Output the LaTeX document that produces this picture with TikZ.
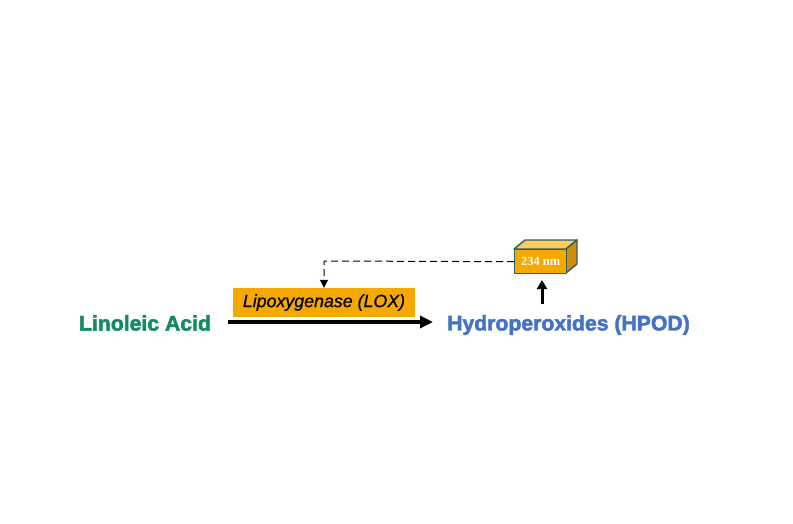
\documentclass[tikz,border=0pt]{standalone}
\usepackage{fontspec}
\setmainfont{Liberation Sans}
\newfontfamily\heavysans[FakeBold=2.2]{Liberation Sans Bold}
\newfontfamily\semiitalic[FakeBold=0.6]{Liberation Sans Italic}
\newfontfamily\serifbold{Liberation Serif Bold}
\usetikzlibrary{arrows.meta}
\definecolor{lagreen}{HTML}{148C5F}
\definecolor{hpblue}{HTML}{4472C4}
\definecolor{loxorange}{HTML}{F5A800}
\definecolor{cubetop}{HTML}{FFCC5A}
\definecolor{cubeside}{HTML}{D08E00}
\definecolor{cubeedge}{HTML}{2E5F6E}
\tikzset{
  label text/.style={inner sep=0pt, font=\heavysans\fontsize{21.2}{24}\selectfont},
  cubeline/.style={draw=cubeedge, line width=1.4pt, line join=round}
}
\begin{document}
\begin{tikzpicture}[x=1pt,y=-1pt]
\useasboundingbox[fill=white] (0,0) rectangle (793,523);
% texts
\node[label text, text=lagreen] (la) at (145,323) {Linoleic Acid};
\node[label text, text=hpblue] (hp) at (568.5,325) {Hydroperoxides (HPOD)};
% enzyme box
\node[fill=loxorange, minimum width=182pt, minimum height=29pt, inner sep=0pt,
      font=\semiitalic\fontsize{17.8}{20}\selectfont] (lox) at (324,302.5) {Lipoxygenase (LOX)};
% main arrow
\coordinate (a0) at (228,322);
\coordinate (a1) at (433,322);
\draw[line width=4pt, -{Triangle[length=13pt,width=12pt]}] (a0) -- (a1);
% cube
\fill[cubetop, cubeline] (514,249) -- (525,240) -- (577,240) -- (566,249) -- cycle;
\fill[cubeside, cubeline] (566,249) -- (577,240) -- (577,264) -- (566,273) -- cycle;
\node[fill=loxorange, cubeline, minimum width=52pt, minimum height=24pt, inner sep=0pt,
      anchor=north west, text=white, font=\serifbold\fontsize{12.5}{14}\selectfont]
      (cube) at (514,249) {234 nm};
% dashed feedback
\coordinate (bend) at (324,261);
\draw[line width=1pt, dash pattern=on 7pt off 4pt, -{Triangle[length=8pt,width=8pt]}]
  (cube.west) -- (bend) -- (lox.north -| bend);
% up arrow
\coordinate (u0) at (542,304);
\draw[line width=3pt, -{Triangle[length=9pt,width=10pt]}] (u0) -- (542,280);
\end{tikzpicture}
\end{document}
